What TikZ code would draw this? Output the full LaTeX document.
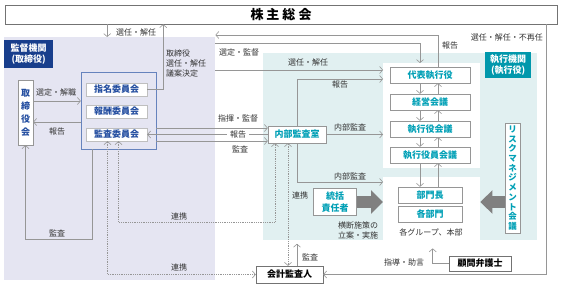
\documentclass[tikz,border=0pt]{standalone}
\usepackage{fontspec}
\setmainfont{Noto Sans CJK JP}
\usetikzlibrary{arrows.meta}
\definecolor{boardblue}{RGB}{24,62,140}
\definecolor{boardtext}{RGB}{36,78,160}
\definecolor{boardbg}{RGB}{229,229,242}
\definecolor{execteal}{RGB}{0,152,172}
\definecolor{exectext}{RGB}{0,160,182}
\definecolor{execbg}{RGB}{225,240,241}
\definecolor{linegray}{RGB}{150,150,150}

\begin{document}
\begin{tikzpicture}[x=1pt, y=-1pt,
        region/.style={
            rectangle,
            inner sep=0pt,
            anchor=north west
        },
        tag/.style={
            rectangle,
            inner sep=0pt,
            anchor=north west,
            align=center,
            text=white,
            font=\fontsize{9}{10.5}\selectfont\bfseries
        },
        committee/.style={
            rectangle,
            fill=white,
            draw=black!25,
            minimum width=61pt,
            minimum height=13pt,
            inner sep=0pt,
            text=boardtext,
            font=\fontsize{9}{10}\selectfont\bfseries
        },
        exec/.style={
            rectangle,
            fill=white,
            draw=linegray,
            minimum width=80pt,
            minimum height=16pt,
            inner sep=0pt,
            text=exectext,
            font=\fontsize{9}{10}\selectfont\bfseries
        },
        vbox/.style={
            rectangle,
            fill=white,
            draw=linegray,
            inner sep=0pt,
            align=center
        },
        outside/.style={
            rectangle,
            fill=white,
            draw=black!55,
            inner sep=0pt,
            font=\fontsize{9}{10}\selectfont\bfseries
        },
        note/.style={
            inner sep=0pt,
            align=center,
            text=black!80,
            font=\fontsize{8}{10}\selectfont
        },
        arr/.style={draw=linegray, line width=0.6pt, -{Straight Barb[length=3pt,width=7pt]}},
        link/.style={draw=linegray, line width=0.6pt, dash pattern=on 0.8pt off 1pt,
            {Straight Barb[length=3pt,width=7pt]}-{Straight Barb[length=3pt,width=7pt]}},
        bigarrow/.style={draw=black!50, line width=12pt, -{Triangle[length=12pt,width=23pt]}}
    ]
        \useasboundingbox (0,0) rectangle (561,286);

        % organos
        \node[region, fill=boardbg, minimum width=211pt, minimum height=243pt] (supervision) at (4,37) {};
        \node[region, fill=execbg, minimum width=274pt, minimum height=187pt] (execution) at (263,53) {};
        \node[region, fill=white, minimum width=97pt, minimum height=105pt] (toppanel) at (383,63) {};
        \node[region, fill=white, minimum width=97pt, minimum height=63pt] (lowpanel) at (383,177) {};
        \node[tag, fill=boardblue, minimum width=49pt, minimum height=28pt] (boardtag) at (4,40) {監督機関\\(取締役)};
        \node[tag, fill=execteal, minimum width=46pt, minimum height=26pt] (exectag) at (485,52) {執行機関\\(執行役)};

        \node[outside, minimum width=552pt, minimum height=19pt, font=\fontsize{13}{14}\selectfont\bfseries] (meeting) at (281,14.5) {株\kern3pt 主\kern3pt 総\kern3pt 会};

        % 監督側
        \node[vbox, minimum width=15pt, minimum height=65pt, text=boardtext, font=\fontsize{9}{13}\selectfont\bfseries] (directors) at (25.5,112.5) {取\\締\\役\\会};
        \node[rectangle, draw=boardtext!70, fill=boardbg, minimum width=75pt, minimum height=77pt] (committees) at (118.5,110.5) {};
        \node[committee] (nomination) at (116.5,89.5) {指名委員会};
        \node[committee] (compensation) at (116.5,111.5) {報酬委員会};
        \node[committee] (audit) at (116.5,134.5) {監査委員会};

        % 執行側
        \node[exec] (president) at (430,75) {代表執行役};
        \node[exec] (management) at (430,102) {経営会議};
        \node[exec] (officers) at (430,129) {執行役会議};
        \node[exec] (executives) at (430,155) {執行役員会議};
        \node[exec, minimum width=64pt] (heads) at (430,195) {部門長};
        \node[exec, minimum width=64pt] (divisions) at (430,214) {各部門};
        \node[exec, minimum width=58pt, minimum height=17pt] (internal) at (297,134.5) {内部監査室};
        \node[vbox, minimum width=43pt, minimum height=27pt, text=exectext, font=\fontsize{9}{12}\selectfont\bfseries] (integrator) at (335,202) {統括\\責任者};
        \node[vbox, minimum width=15pt, minimum height=110pt, text=exectext, font=\fontsize{8.5}{9.7}\selectfont\bfseries] (risk) at (512.5,178) {リ\\ス\\ク\\マ\\ネ\\ジ\\メ\\ン\\ト\\会\\議};

        % 外部
        \node[outside, minimum width=67pt, minimum height=17pt] (auditor) at (289.5,274.5) {会計監査人};
        \node[outside, minimum width=62pt, minimum height=15pt] (counsel) at (480,263.5) {顧問弁護士};

        % 株主総会まわり
        \draw[arr] ([xshift=-2.5pt]supervision.north |- meeting.south) -- ([xshift=-2.5pt]supervision.north);
        \draw[arr] (nomination.east) -| ([xshift=16pt]nomination.east |- meeting.south);
        \draw[arr] ([xshift=-11pt]meeting.south east) |- (auditor.east);

        % 監督機関の中
        \draw[arr] ([yshift=11.5pt]directors.east) -- ([yshift=11.5pt]directors.east -| committees.west);
        \draw[arr] ([yshift=-9.5pt]directors.east -| committees.west) -- ([yshift=-9.5pt]directors.east);
        \draw[arr] ([xshift=-26.5pt]committees.south) -- ++(0,90) -| (directors.south);

        % 監督と執行
        \draw[arr] ([yshift=-6pt]supervision.north east) -| ([xshift=-10pt]president.north |- toppanel.north);
        \draw[arr] ([xshift=8pt]president.north) |- ([yshift=2pt]supervision.north east);
        \draw[arr] ([yshift=-33pt]supervision.north east) -- ([yshift=5pt]president.west -| toppanel.west);
        \draw[arr] ([yshift=6.5pt]internal.west -| committees.east) -- ([yshift=6.5pt]internal.west);
        \draw[arr] (internal.west) -- (audit.east);
        \draw[arr] ([yshift=-6.5pt]internal.west -| committees.east) -- ([yshift=-6.5pt]internal.west);

        % 内部監査室
        \draw[arr] (internal.north) |- ([yshift=-4pt]president.west -| toppanel.west);
        \draw[arr] (internal.east) -- (internal.east -| toppanel.west);
        \draw[arr] (internal.south) |- ([yshift=-5pt]lowpanel.north west);

        % 執行の縦の流れ
        \draw[arr] ([xshift=-10pt]president.south) -- ([xshift=-10pt]management.north);
        \draw[arr] ([xshift=8pt]management.north) -- ([xshift=8pt]president.south);
        \draw[arr] ([xshift=-10pt]management.south) -- ([xshift=-10pt]officers.north);
        \draw[arr] ([xshift=8pt]officers.north) -- ([xshift=8pt]management.south);
        \draw[arr] ([xshift=-10pt]officers.south) -- ([xshift=-10pt]executives.north);
        \draw[arr] ([xshift=8pt]executives.north) -- ([xshift=8pt]officers.south);
        \draw[arr] ([xshift=-10pt]executives.south) -- ([xshift=-10pt]heads.north);
        \draw[arr] ([xshift=8pt]heads.north) -- ([xshift=8pt]executives.south);

        \draw[bigarrow] (integrator.east) -- (integrator.east -| lowpanel.west);
        \draw[bigarrow] (risk.west |- integrator.east) -- (integrator.east -| lowpanel.east);

        % 連携と監査
        \draw[link] ([xshift=2pt]audit.south) -- ++(0,81) -| ([xshift=-22pt]internal.south);
        \draw[link] ([xshift=-9pt]audit.south) |- (auditor.west);
        \draw[link] ([xshift=-9pt]internal.south) -- ([xshift=-9pt]internal.south |- auditor.north);
        \draw[arr] ([xshift=7.5pt]auditor.north) -- ++(0,-22);
        \draw[arr] (counsel.west) -| ([xshift=1pt,yshift=-8pt]lowpanel.south);

        % ラベル
        \node[note] (l1) at (136,32) {選任・解任};
        \node[note, align=left, anchor=west] (l2) at (166,63) {取締役\\選任・解任\\議案決定};
        \node[note] (l3) at (239,52) {選定・監督};
        \node[note] (l4) at (450,45) {報告};
        \node[note, anchor=east] (l5) at (543,37) {選任・解任・不再任};
        \node[note] (l6) at (308,62) {選任・解任};
        \node[note] (l7) at (340,84) {報告};
        \node[note] (l8) at (56,92) {選定・解職};
        \node[note] (l9) at (57,131) {報告};
        \node[note] (l10) at (238,118) {指揮・監督};
        \node[note, fill=white, inner xsep=3pt, inner ysep=1pt] (l11) at (238,134.5) {報告};
        \node[note] (l12) at (240,149) {監査};
        \node[note] (l13) at (350,127) {内部監査};
        \node[note] (l14) at (350,176) {内部監査};
        \node[note] (l15) at (300,195) {連携};
        \node[note] (l16) at (358,230) {横断施策の\\立案・実施};
        \node[note] (l17) at (431,232) {各グループ、本部};
        \node[note] (l18) at (179,216) {連携};
        \node[note] (l19) at (179,267) {連携};
        \node[note] (l20) at (57,233) {監査};
        \node[note] (l21) at (310,257) {監査};
        \node[note] (l22) at (404,262) {指導・助言};
    \end{tikzpicture}
\end{document}
